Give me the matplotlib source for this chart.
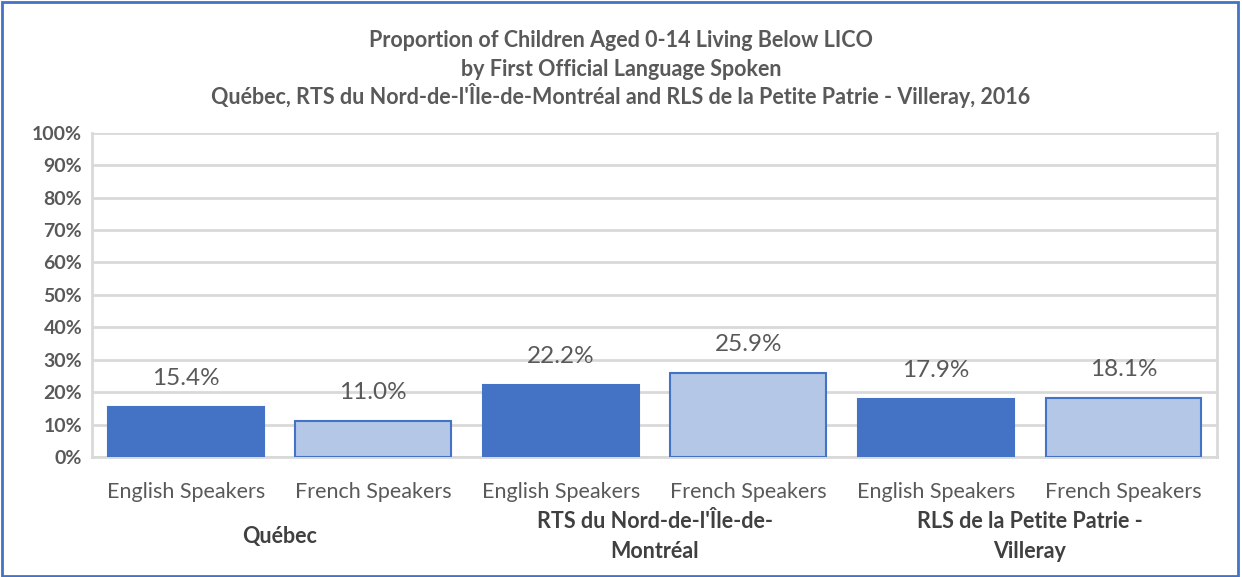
import matplotlib.pyplot as plt
import numpy as np
from matplotlib.patches import Rectangle

plt.rcParams['font.family'] = ['Lato', 'DejaVu Sans']

groups = ["Québec", "RTS du Nord-de-l'Île-de-\nMontréal", "RLS de la Petite Patrie -\nVilleray"]
speakers = ["English Speakers", "French Speakers"]
values = [15.4, 11.0, 22.2, 25.9, 17.9, 18.1]
labels = ["15.4%", "11.0%", "22.2%", "25.9%", "17.9%", "18.1%"]
title_lines = ["Proportion of Children Aged 0-14 Living Below LICO",
               "by First Official Language Spoken",
               "Québec, RTS du Nord-de-l'Île-de-Montréal and RLS de la Petite Patrie - Villeray, 2016"]

dark = "#4472C4"
light = "#B4C7E7"
grey = "#595959"
grid = "#D9D9D9"

fig = plt.figure(figsize=(12.42, 5.77), dpi=100)
ax = fig.add_axes([0.074, 0.208, 0.906, 0.562])

x = np.arange(len(values))
colors = [dark, light] * len(groups)
ax.bar(x, values, width=0.83, color=colors, edgecolor=dark, linewidth=1.5, zorder=3)

for xi, v, lab in zip(x, values, labels):
    ax.annotate(lab, (xi, v), xytext=(0, 13), textcoords="offset points",
                ha="center", va="bottom", fontsize=17.5, color=grey)

ax.set_xlim(-0.5, len(values) - 0.5)
ax.set_ylim(0, 100)
ax.set_yticks(range(0, 101, 10))
ax.set_yticklabels([f"{t}%" for t in range(0, 101, 10)], fontsize=14, fontweight="bold", color=grey)
ax.set_xticks(x)
ax.set_xticklabels(speakers * len(groups), fontsize=15.5, color=grey)
ax.tick_params(axis="both", length=0)
ax.tick_params(axis="x", pad=18)
ax.tick_params(axis="y", pad=7)
ax.yaxis.grid(True, color=grid, linewidth=2, zorder=0)
for s in ax.spines.values():
    s.set_color(grid)
    s.set_linewidth(2)
ax.spines["top"].set_visible(False)

# group labels under the ticks
for i, g in enumerate(groups):
    ax.text(2 * i + 0.5, -0.245, g, transform=ax.get_xaxis_transform(),
            ha="center", va="center", fontsize=15.5, fontweight="bold", color="#404040",
            linespacing=1.5)

# title, one line at a time
for yy, line in zip([0.918, 0.869, 0.819], title_lines):
    fig.text(0.5, yy, line, ha="center", va="baseline", fontsize=15.5,
             fontweight="bold", color=grey)

fig.patches.append(Rectangle((0.002, 0.002), 0.995, 0.994, transform=fig.transFigure,
                             fill=False, edgecolor=dark, linewidth=2))

fig.savefig("out.png", dpi=100)
